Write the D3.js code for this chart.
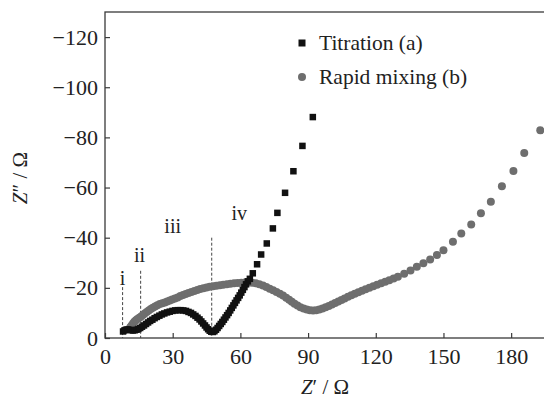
<!DOCTYPE html>
<html>
<head>
<meta charset="utf-8">
<script src="https://cdn.jsdelivr.net/npm/d3@7"></script>
<style>
  body { margin: 0; background: #fff; }
  svg { display: block; font-family: "Liberation Serif", "Times New Roman", serif; }
</style>
</head>
<body>
<div id="chart"></div>
<script>
// Z' (ohm), Z'' (ohm)
const titration = [
  [8.0,-2.6],[8.6,-3.0],[9.3,-3.3],[10.0,-3.4],[10.8,-3.3],[11.6,-3.1],[12.4,-3.0],[13.2,-3.1],
  [14.0,-3.3],[14.8,-3.6],[15.6,-4.0],[16.4,-4.5],[17.3,-5.0],[18.2,-5.6],[19.1,-6.2],[20.0,-6.8],
  [21.0,-7.3],[22.0,-7.9],[23.0,-8.4],[24.1,-8.9],[25.2,-9.4],[26.3,-9.8],[27.5,-10.2],[28.7,-10.5],
  [29.9,-10.8],[31.1,-11.0],[32.3,-11.1],[33.5,-11.1],[34.7,-11.0],[35.9,-10.8],[37.0,-10.4],[38.1,-10.0],
  [39.1,-9.4],[40.1,-8.8],[41.0,-8.1],[41.9,-7.4],[42.7,-6.6],[43.5,-5.8],[44.3,-5.0],[45.0,-4.2],
  [45.7,-3.5],[46.4,-2.9],[47.1,-2.5],[47.8,-2.4],[48.5,-2.7],[49.2,-3.3],[49.9,-4.0],[50.6,-4.8],
  [51.3,-5.6],[52.0,-6.4],[52.7,-7.3],[53.4,-8.2],[54.1,-9.1],[54.8,-10.0],[55.5,-11.0],[56.2,-12.0],
  [56.9,-13.0],[57.6,-14.0],[58.3,-15.0],[59.0,-16.0],[59.7,-17.0],[60.4,-18.1],[61.1,-19.2],[61.8,-20.3],
  [62.5,-21.4],[63.3,-22.6],[64.2,-23.6],[65.5,-25.8],[67.4,-29.4],[69.2,-33.3],[71.7,-37.7],[74.4,-43.7],
  [76.4,-49.9],[79.8,-57.9],[83.5,-66.5],[87.5,-76.6],[92.1,-88.1]
];

const rapidMixing = [
  [11.2,-4.3],[11.8,-5.0],[12.4,-5.8],[13.0,-6.5],[13.7,-7.1],[14.4,-7.6],[15.2,-8.1],[16.0,-8.6],
  [16.8,-9.2],[17.6,-9.8],[18.5,-10.4],[19.4,-11.0],[20.3,-11.6],[21.2,-12.1],[22.2,-12.6],[23.2,-13.1],
  [24.3,-13.6],[25.4,-13.9],[26.5,-14.2],[27.6,-14.6],[28.7,-15.0],[29.8,-15.4],[31.0,-15.8],[32.2,-16.2],
  [33.4,-16.7],[34.6,-17.1],[35.8,-17.5],[37.0,-17.9],[38.3,-18.3],[39.6,-18.7],[40.9,-19.1],[42.2,-19.5],
  [43.6,-19.8],[45.0,-20.1],[46.4,-20.4],[47.9,-20.6],[49.4,-20.8],[50.9,-21.0],[52.4,-21.2],[54.0,-21.4],
  [55.6,-21.6],[57.2,-21.8],[58.8,-21.9],[60.4,-22.0],[62.0,-22.1],[63.6,-22.1],[65.2,-22.0],[66.8,-21.8],
  [68.4,-21.4],[70.0,-20.9],[71.5,-20.3],[73.0,-19.6],[74.5,-19.0],[76.0,-18.3],[77.5,-17.6],[78.9,-16.9],
  [80.3,-16.1],[81.6,-15.3],[82.8,-14.5],[84.0,-13.7],[85.3,-13.0],[86.6,-12.3],[88.0,-11.8],[89.4,-11.4],
  [90.8,-11.1],[92.2,-11.0],[93.6,-11.1],[95.0,-11.4],[96.4,-11.8],[97.8,-12.3],[99.2,-12.8],[100.6,-13.4],
  [102.0,-14.0],[103.4,-14.6],[104.8,-15.2],[106.2,-15.8],[107.7,-16.4],[109.2,-17.0],[110.7,-17.6],[112.3,-18.2],
  [113.9,-18.8],[115.5,-19.4],[117.2,-20.0],[118.9,-20.6],[120.6,-21.2],[122.4,-21.8],[124.2,-22.4],[126.0,-23.0],
  [127.9,-23.7],[129.8,-24.4],[132.6,-25.6],[135.4,-26.9],[138.2,-28.4],[141.1,-29.8],[144.1,-31.3],[147.1,-33.1],
  [150.0,-35.0],[154.2,-38.4],[157.9,-41.7],[162.3,-45.3],[166.6,-49.7],[171.0,-54.3],[175.9,-60.5],[181.0,-66.6],
  [185.8,-73.8],[192.9,-82.8]
];

const xTicks = [0, 30, 60, 90, 120, 150, 180];
const yTicks = [0, -20, -40, -60, -80, -100, -120];

// region boundaries (dashed markers) and their labels
const regionLines = [7.8, 15.8, 47.3];
const regionLineTops = [-20.3, -26.8, -40];
const regionLabels = ["i", "ii", "iii", "iv"];
const regionLabelX = [7.8, 15.3, 30, 59.5];
const regionLabelY = [-21.0, -30.2, -41.8, -47.0];

const seriesNames = ["Titration (a)", "Rapid mixing (b)"];

const width = 544, height = 405;
const margin = { top: 12, right: 0, bottom: 67, left: 105 };

const x = d3.scaleLinear().domain([0, 195]).range([margin.left, width - margin.right + 1]);
const y = d3.scaleLinear().domain([0, -130]).range([height - margin.bottom, margin.top]);

const svg = d3.select("#chart").append("svg")
  .attr("width", width)
  .attr("height", height);

const axisColor = "#3a3a3a";

// frame
svg.append("rect")
  .attr("x", x(0)).attr("y", y(-130))
  .attr("width", x(195) - x(0)).attr("height", y(0) - y(-130))
  .attr("fill", "none").attr("stroke", axisColor).attr("stroke-width", 1.3);

const xAxis = svg.append("g")
  .attr("transform", `translate(0,${y(0)})`)
  .call(d3.axisBottom(x).tickValues(xTicks).tickSize(-5).tickPadding(10).tickFormat(d3.format("d")));
const yAxis = svg.append("g")
  .attr("transform", `translate(${x(0)},0)`)
  .call(d3.axisLeft(y).tickValues(yTicks).tickSize(-5).tickPadding(7).tickFormat(d3.format("d")));

[xAxis, yAxis].forEach(g => {
  g.select(".domain").remove();
  g.selectAll(".tick line").attr("stroke", axisColor).attr("stroke-width", 1.2);
  g.selectAll(".tick text").attr("fill", "#222").style("font-size", "22px")
    .style("font-family", '"Liberation Serif", serif');
});

// dashed region markers
svg.append("g").selectAll("line")
  .data(regionLines)
  .join("line")
  .attr("x1", d => x(d)).attr("x2", d => x(d))
  .attr("y1", (d, i) => y(regionLineTops[i])).attr("y2", y(0))
  .attr("stroke", "#444").attr("stroke-width", 1).attr("stroke-dasharray", "3,2");

svg.append("g").selectAll("text")
  .data(regionLabels)
  .join("text")
  .attr("x", (d, i) => x(regionLabelX[i]))
  .attr("y", (d, i) => y(regionLabelY[i]))
  .attr("text-anchor", "middle")
  .attr("fill", "#222")
  .style("font-size", "20px")
  .text(d => d);

// series
const gray = "#6e6e6e";
svg.append("g").selectAll("circle")
  .data(rapidMixing)
  .join("circle")
  .attr("cx", d => x(d[0])).attr("cy", d => y(d[1]))
  .attr("r", 4).attr("fill", gray);

const sq = 6.5;
svg.append("g").selectAll("rect")
  .data(titration)
  .join("rect")
  .attr("x", d => x(d[0]) - sq / 2).attr("y", d => y(d[1]) - sq / 2)
  .attr("width", sq).attr("height", sq).attr("fill", "#111");

// legend
const legend = svg.append("g").attr("transform", "translate(302,43)");
legend.append("rect").attr("x", -3.5).attr("y", -3.5).attr("width", 7).attr("height", 7).attr("fill", "#111");
legend.append("circle").attr("cx", 0).attr("cy", 34).attr("r", 4).attr("fill", gray);
legend.selectAll("text")
  .data(seriesNames)
  .join("text")
  .attr("x", 17)
  .attr("y", (d, i) => 7 + i * 34)
  .attr("fill", "#222")
  .style("font-size", "21.5px")
  .text(d => d);

// axis titles
const xt = svg.append("text")
  .attr("x", 325).attr("y", 394)
  .attr("text-anchor", "middle").attr("fill", "#222").style("font-size", "21px");
xt.append("tspan").style("font-style", "italic").text("Z");
xt.append("tspan").text("′ / Ω");

const yt = svg.append("text")
  .attr("transform", "translate(27,178) rotate(-90)")
  .attr("text-anchor", "middle").attr("fill", "#222").style("font-size", "21px");
yt.append("tspan").style("font-style", "italic").text("Z");
yt.append("tspan").text("″ / Ω");
</script>
</body>
</html>
